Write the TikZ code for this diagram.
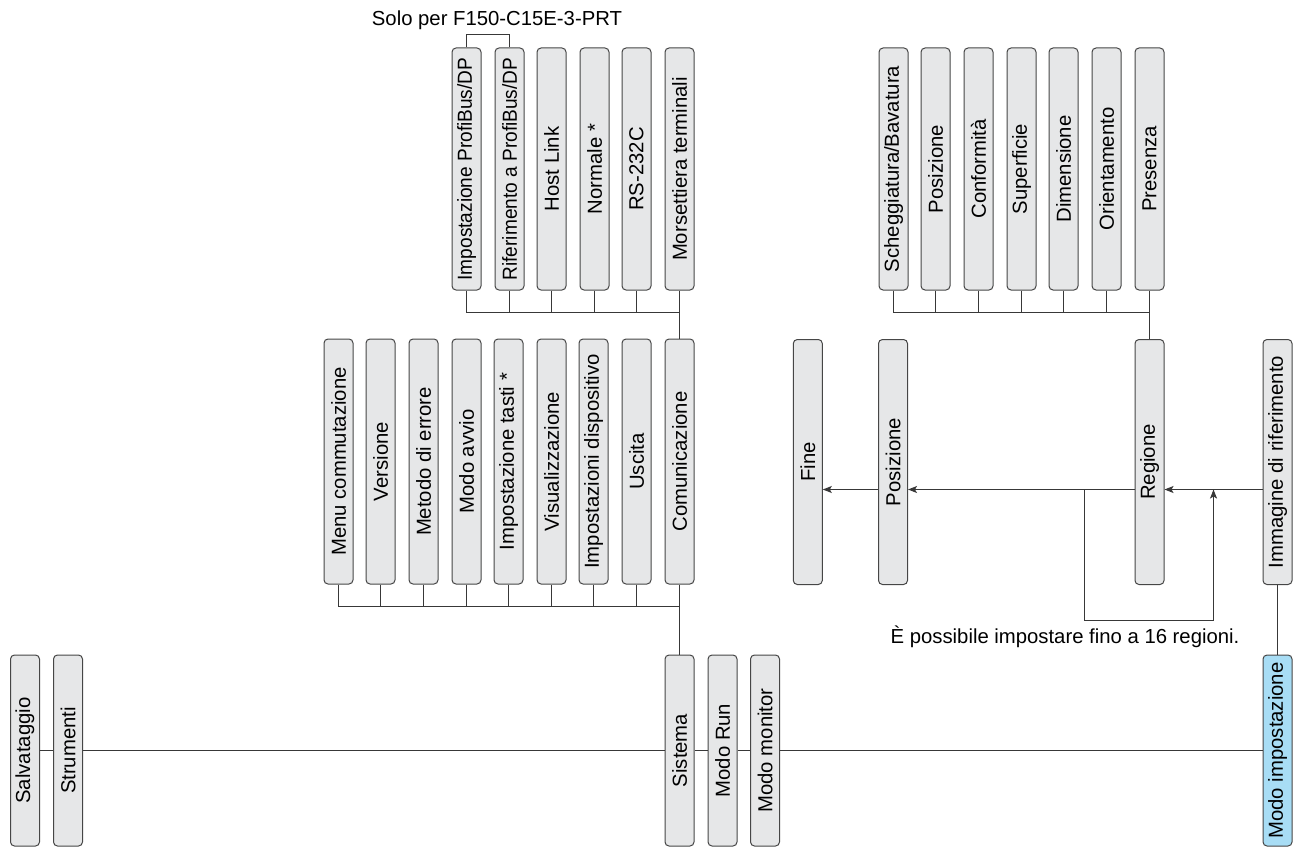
\documentclass[tikz,border=0pt]{standalone}
\usepackage{fontspec}
\setmainfont{Liberation Sans}
\usetikzlibrary{arrows.meta}
\definecolor{menugrey}{RGB}{230, 231, 232}
\definecolor{menuline}{RGB}{70, 70, 70}
\definecolor{menublue}{RGB}{168, 221, 245}
\tikzstyle{menu} = [
  draw=menuline,
  fill=menugrey,
  rounded corners=4pt,
  line width=1pt,
  minimum width=29pt,
  inner sep=0pt,
  font=\fontsize{20.3}{24}\selectfont,
]
\tikzstyle{tall} = [menu, minimum height=242pt]
\tikzstyle{mid} = [menu, minimum height=245pt]
\tikzstyle{short} = [menu, minimum height=191pt]
\tikzstyle{wire} = [draw=menuline!80!black, line width=1.1pt]
\tikzstyle{feed} = [wire, -{Stealth[length=9pt, width=7pt, inset=2pt]}]
\newcommand{\up}[1]{\rotatebox{90}{#1}}
\newcommand{\squeeze}[1]{\scalebox{0.94}[1]{#1}}

\begin{document}
\begin{tikzpicture}[x=1pt, y=-1pt]
            \useasboundingbox (0,0) rectangle (1303,848);

            % Communication settings
            \node[tall] (impdp) at (466.5,169) {\up{\squeeze{Impostazione ProfiBus/DP}}};
            \node[tall] (rifdp) at (509.5,169) {\up{\squeeze{Riferimento a ProfiBus/DP}}};
            \node[tall] (host) at (551.5,169) {\up{Host Link}};
            \node[tall] (normale) at (594.5,169) {\up{Normale *}};
            \node[tall] (rs) at (636.5,169) {\up{RS-232C}};
            \node[tall] (morset) at (679.5,169) {\up{Morsettiera terminali}};
            \node[anchor=base, font=\fontsize{20.3}{24}\selectfont] (solo) at (497,26) {Solo per F150-C15E-3-PRT};

            % System menu
            \node[mid] (menucomm) at (338.5,461.5) {\up{Menu commutazione}};
            \node[mid] (versione) at (380.5,461.5) {\up{Versione}};
            \node[mid] (metodo) at (423.5,461.5) {\up{Metodo di errore}};
            \node[mid] (avvio) at (466.5,461.5) {\up{Modo avvio}};
            \node[mid] (tasti) at (508.5,461.5) {\up{Impostazione tasti *}};
            \node[mid] (visual) at (551.5,461.5) {\up{Visualizzazione}};
            \node[mid] (disp) at (593.5,461.5) {\up{Impostazioni dispositivo}};
            \node[mid] (uscita) at (636.5,461.5) {\up{Uscita}};
            \node[mid] (comm) at (679.5,461.5) {\up{Comunicazione}};

            % Inspection items
            \node[tall] (schegg) at (893.5,169) {\up{Scheggiatura/Bavatura}};
            \node[tall] (posiz) at (935.5,169) {\up{Posizione}};
            \node[tall] (conform) at (978.5,169) {\up{Conformità}};
            \node[tall] (superf) at (1021.5,169) {\up{Superficie}};
            \node[tall] (dimens) at (1063.5,169) {\up{Dimensione}};
            \node[tall] (orient) at (1106.5,169) {\up{Orientamento}};
            \node[tall] (presenza) at (1149.5,169) {\up{Presenza}};

            % Setting steps
            \node[mid] (fine) at (807.8,462) {\up{Fine}};
            \node[mid] (posstep) at (893,462) {\up{Posizione}};
            \node[mid] (regione) at (1149.5,462) {\up{Regione}};
            \node[mid] (immag) at (1277.5,462) {\up{Immagine di riferimento}};
            \node[anchor=base, font=\fontsize{20.3}{24}\selectfont] (note) at (1065,643) {È possibile impostare fino a 16 regioni.};

            % Modes
            \node[short] (salva) at (25,750.5) {\up{Salvataggio}};
            \node[short] (strum) at (68,750.5) {\up{Strumenti}};
            \node[short] (sistema) at (679.5,750.5) {\up{Sistema}};
            \node[short] (run) at (722.5,750.5) {\up{Modo Run}};
            \node[short] (monitor) at (765,750.5) {\up{Modo monitor}};
            \node[short, fill=menublue] (impost) at (1277.5,750.5) {\up{Modo impostazione}};

            % Buses
            \coordinate (commbus) at (679.5,312.5);
            \coordinate (sysbus) at (679.5,606.5);
            \coordinate (regbus) at (1149.5,312.5);

            \draw[wire] (impdp.north) -- ++(0,-13) -| (rifdp.north);
            \draw[wire] (impdp.south) |- (commbus);
            \draw[wire] (rifdp.south) -- (rifdp.south |- commbus)
                        (host.south) -- (host.south |- commbus)
                        (normale.south) -- (normale.south |- commbus)
                        (rs.south) -- (rs.south |- commbus);
            \draw[wire] (morset.south) -- (comm.north);

            \draw[wire] (menucomm.south) |- (sysbus);
            \draw[wire] (versione.south) -- (versione.south |- sysbus)
                        (metodo.south) -- (metodo.south |- sysbus)
                        (avvio.south) -- (avvio.south |- sysbus)
                        (tasti.south) -- (tasti.south |- sysbus)
                        (visual.south) -- (visual.south |- sysbus)
                        (disp.south) -- (disp.south |- sysbus)
                        (uscita.south) -- (uscita.south |- sysbus);
            \draw[wire] (comm.south) -- (sistema.north);

            \draw[wire] (schegg.south) |- (regbus);
            \draw[wire] (posiz.south) -- (posiz.south |- regbus)
                        (conform.south) -- (conform.south |- regbus)
                        (superf.south) -- (superf.south |- regbus)
                        (dimens.south) -- (dimens.south |- regbus)
                        (orient.south) -- (orient.south |- regbus);
            \draw[wire] (presenza.south) -- (regione.north);

            % Setting flow
            \coordinate (flow) at (0,489.5);
            \coordinate (loopout) at (1084.5,489.5);
            \coordinate (loopin) at (1213.5,489.5);
            \draw[feed] (immag.west |- flow) -- (regione.east |- flow);
            \draw[feed] (regione.west |- flow) -- (posstep.east |- flow);
            \draw[feed] (posstep.west |- flow) -- (fine.east |- flow);
            \draw[feed] (loopout) -- ++(0,131) -| (loopin);
            \draw[wire] (immag.south) -- (impost.north);

            % Main line
            \draw[wire] (salva.east) -- (strum.west) (strum.east) -- (sistema.west)
                        (sistema.east) -- (run.west) (run.east) -- (monitor.west)
                        (monitor.east) -- (impost.west);
          \end{tikzpicture}
\end{document}
